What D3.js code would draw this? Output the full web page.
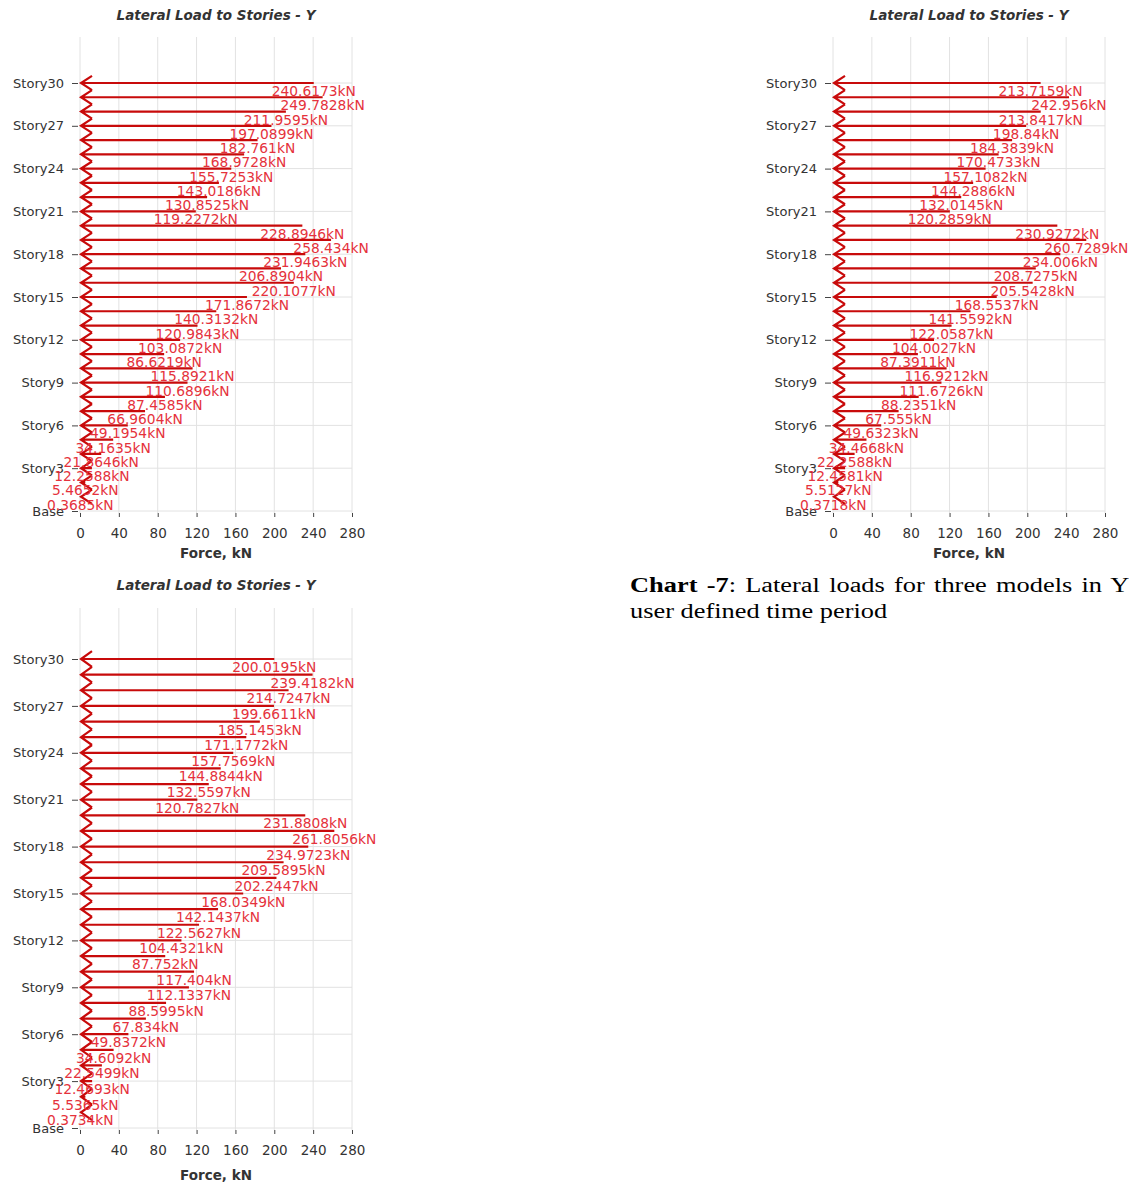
<!DOCTYPE html>
<html>
<head>
<meta charset="utf-8">
<script src="https://cdn.jsdelivr.net/npm/d3@7"></script>
<style>
body { margin: 0; background: #fff; }
</style>
</head>
<body>
<script>
// story labels on the axis, top to bottom
var storyTicks = ["Story30", "Story27", "Story24", "Story21", "Story18", "Story15", "Story12", "Story9", "Story6", "Story3", "Base"];
var forceTicks = [0, 40, 80, 120, 160, 200, 240, 280];

// lateral loads, Story30 first, down to Story1 (kN)
var loadsModel1 = [240.6173, 249.7828, 211.9595, 197.0899, 182.761, 168.9728, 155.7253, 143.0186, 130.8525, 119.2272,
                   228.8946, 258.434, 231.9463, 206.8904, 220.1077, 171.8672, 140.3132, 120.9843, 103.0872, 86.6219,
                   115.8921, 110.6896, 87.4585, 66.9604, 49.1954, 34.1635, 21.8646, 12.2588, 5.4652, 0.3685];
var loadsModel2 = [213.7159, 242.956, 213.8417, 198.84, 184.3839, 170.4733, 157.1082, 144.2886, 132.0145, 120.2859,
                   230.9272, 260.7289, 234.006, 208.7275, 205.5428, 168.5537, 141.5592, 122.0587, 104.0027, 87.3911,
                   116.9212, 111.6726, 88.2351, 67.555, 49.6323, 34.4668, 22.2588, 12.4581, 5.5127, 0.3718];
var loadsModel3 = [200.0195, 239.4182, 214.7247, 199.6611, 185.1453, 171.1772, 157.7569, 144.8844, 132.5597, 120.7827,
                   231.8808, 261.8056, 234.9723, 209.5895, 202.2447, 168.0349, 142.1437, 122.5627, 104.4321, 87.752,
                   117.404, 112.1337, 88.5995, 67.834, 49.8372, 34.6092, 22.5499, 12.4693, 5.5365, 0.3734];

var chartTitle = "Lateral Load to Stories - Y";
var axisTitle = "Force, kN";

var w = 1129, h = 1191;
var font = "'DejaVu Sans', Verdana, sans-serif";

var svg = d3.select("body")
    .append("svg")
    .attr("width", w)
    .attr("height", h);

function storyNum(name) {
    return name == "Base" ? 0 : +name.replace("Story", "");
}

function drawChart(loads, c) {
    var x = d3.scaleLinear().domain([0, 280]).range([c.left, c.right]);
    var y = d3.scaleLinear().domain([0, 30]).range([c.base, c.top]);
    var step = (c.base - c.top) / 30;
    var g = svg.append("g");

    // grid
    g.selectAll(".vgrid")
        .data(forceTicks)
        .enter()
        .append("line")
        .attr("x1", function(d) { return x(d); })
        .attr("x2", function(d) { return x(d); })
        .attr("y1", c.gridTop)
        .attr("y2", c.base + 2)
        .attr("stroke", "#e2e2e2");
    g.selectAll(".hgrid")
        .data(storyTicks)
        .enter()
        .append("line")
        .attr("x1", x(0))
        .attr("x2", x(280))
        .attr("y1", function(d) { return y(storyNum(d)); })
        .attr("y2", function(d) { return y(storyNum(d)); })
        .attr("stroke", "#e2e2e2");

    // axes
    var yAxis = d3.axisLeft(y)
        .tickValues(storyTicks.map(storyNum))
        .tickFormat(function(d) { return d == 0 ? "Base" : "Story" + d; })
        .tickSize(6)
        .tickPadding(8);
    var ya = g.append("g")
        .attr("transform", "translate(" + (c.left - 2) + ",0)")
        .call(yAxis);
    ya.select(".domain").remove();
    ya.selectAll("text").attr("font-family", font).attr("font-size", "13px").attr("fill", "#333");
    ya.selectAll("line").attr("stroke", "#444");

    var xAxis = d3.axisBottom(x)
        .tickValues(forceTicks)
        .tickSize(4)
        .tickPadding(11);
    var xa = g.append("g")
        .attr("transform", "translate(0," + (c.base + 2) + ")")
        .call(xAxis);
    xa.select(".domain").remove();
    xa.selectAll("text").attr("font-family", font).attr("font-size", "13.5px").attr("fill", "#333");
    xa.selectAll("line").attr("stroke", "#444");

    // load arrows
    g.selectAll(".load")
        .data(loads)
        .enter()
        .append("path")
        .attr("d", function(d, i) {
            var yy = y(30 - i), x0 = x(0) + 1;
            return "M" + x(d) + "," + yy + "L" + x0 + "," + yy +
                   "M" + (x0 + 11) + "," + (yy - step / 2) + "L" + x0 + "," + yy + "L" + (x0 + 11) + "," + (yy + step / 2);
        })
        .attr("fill", "none")
        .attr("stroke", "#c80a0a")
        .attr("stroke-width", 2.2);

    g.selectAll(".lbl")
        .data(loads)
        .enter()
        .append("text")
        .text(function(d) { return d + "kN"; })
        .attr("x", function(d) { return x(d); })
        .attr("y", function(d, i) { return y(30 - i) + 13; })
        .attr("font-family", font)
        .attr("font-size", "13.8px")
        .attr("fill", "#e5323c")
        .attr("text-anchor", "middle");

    // titles
    g.append("text")
        .text(chartTitle)
        .attr("x", (c.left + c.right) / 2)
        .attr("y", c.titleY)
        .attr("font-family", font)
        .attr("font-size", "13.5px")
        .attr("font-weight", "bold")
        .attr("font-style", "italic")
        .attr("fill", "#333")
        .attr("text-anchor", "middle");
    g.append("text")
        .text(axisTitle)
        .attr("x", (c.left + c.right) / 2)
        .attr("y", c.axisY)
        .attr("font-family", font)
        .attr("font-size", "13.5px")
        .attr("font-weight", "bold")
        .attr("fill", "#333")
        .attr("text-anchor", "middle");
}

drawChart(loadsModel1, {left: 80, right: 352, titleY: 20, gridTop: 37, top: 83, base: 511, axisY: 558});
drawChart(loadsModel2, {left: 833, right: 1105, titleY: 20, gridTop: 37, top: 83, base: 511, axisY: 558});
drawChart(loadsModel3, {left: 80, right: 352, titleY: 590, gridTop: 608, top: 659, base: 1128, axisY: 1180});

// caption
var cap = svg.append("g")
    .attr("transform", "translate(630,0) scale(1.32,1)")
    .attr("font-family", "'Liberation Serif', 'Times New Roman', serif")
    .attr("font-size", "20px")
    .attr("fill", "#000");
var line1 = cap.append("text").attr("x", 0).attr("y", 592).attr("word-spacing", "2px");
line1.append("tspan").attr("font-weight", "bold").text("Chart -7");
line1.append("tspan").text(": Lateral loads for three models in Y");
cap.append("text").attr("x", 0).attr("y", 618).text("user defined time period");
</script>
</body>
</html>
